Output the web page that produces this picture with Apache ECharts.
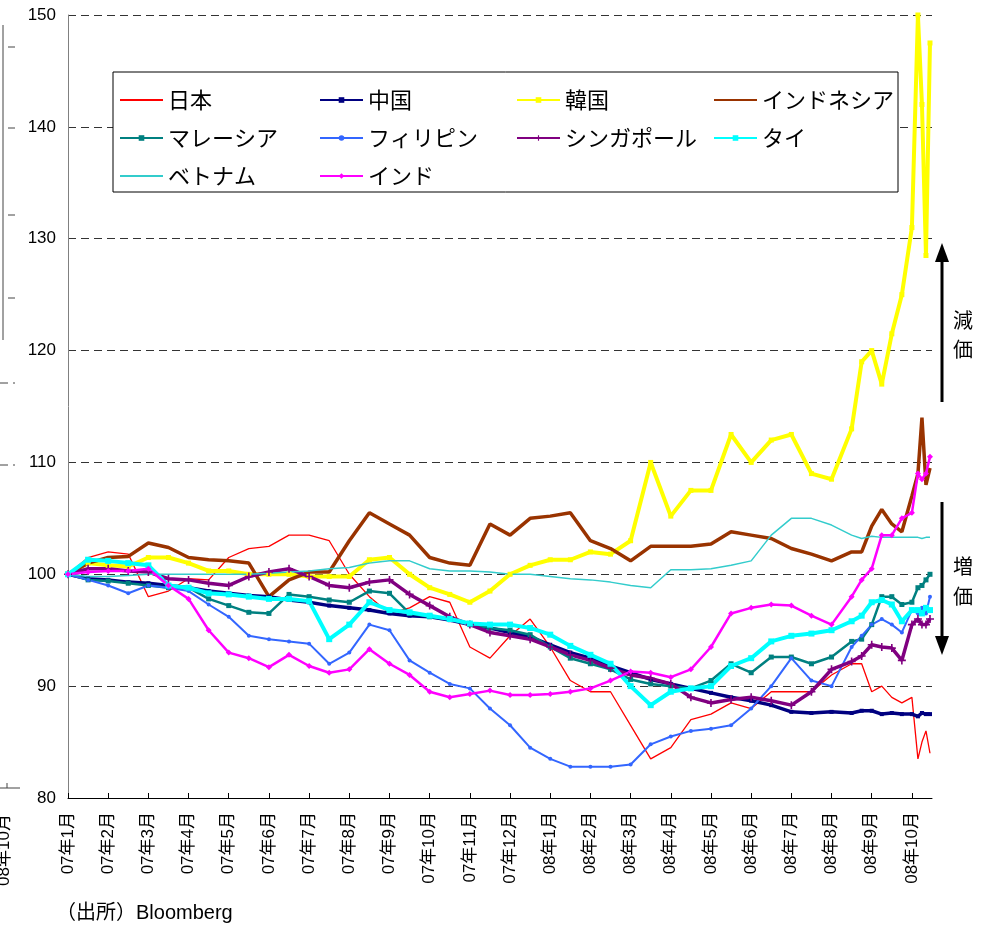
<!DOCTYPE html>
<html>
<head>
<meta charset="utf-8">
<title>アジア通貨の対ドルレート</title>
<script src="https://cdn.jsdelivr.net/npm/echarts@6/dist/echarts.min.js"></script>
<style>
	html, body { margin: 0; padding: 0; background: #fff; }
	#graph { width: 994px; height: 928px; }
</style>
</head>
<body>
<div id="graph"></div>
<script>
// 月インデックス (0 = 07年1月初)
var months = [0, 0.5, 1, 1.5, 2, 2.5, 3, 3.5, 4, 4.5, 5, 5.5, 6, 6.5, 7, 7.5, 8, 8.5, 9, 9.5,
	10, 10.5, 11, 11.5, 12, 12.5, 13, 13.5, 14, 14.5, 15, 15.5, 16, 16.5, 17, 17.5, 18, 18.5, 19, 19.5,
	19.75, 20, 20.25, 20.5, 20.75, 21, 21.15, 21.25, 21.35, 21.45];

var monthLabels = ['07年1月', '07年2月', '07年3月', '07年4月', '07年5月', '07年6月', '07年7月', '07年8月',
	'07年9月', '07年10月', '07年11月', '07年12月', '08年1月', '08年2月', '08年3月', '08年4月',
	'08年5月', '08年6月', '08年7月', '08年8月', '08年9月', '08年10月'];

var yTicks = [80, 90, 100, 110, 120, 130, 140, 150];

var japan = [100, 101.5, 102, 101.8, 98, 98.5, 99.6, 99.5, 101.5, 102.3, 102.5, 103.5, 103.5, 103, 100, 98, 96.5, 97, 98, 97.5,
	93.5, 92.5, 94.5, 96, 93.5, 90.5, 89.5, 89.5, 86.5, 83.5, 84.5, 87, 87.5, 88.5, 88, 89.5, 89.5, 89.5, 91, 92,
	92, 89.5, 90, 89, 88.5, 89, 83.5, 85, 86, 84];
var china = [100, 99.6, 99.5, 99.3, 99.2, 99.0, 98.8, 98.5, 98.3, 98.1, 98.0, 97.7, 97.5, 97.2, 97.0, 96.8, 96.5, 96.3, 96.2, 95.9,
	95.5, 95.2, 94.8, 94.4, 93.7, 93.0, 92.5, 91.8, 91.2, 90.6, 90.2, 89.8, 89.4, 89.0, 88.7, 88.3, 87.7, 87.6, 87.7, 87.6,
	87.8, 87.8, 87.5, 87.6, 87.5, 87.5, 87.3, 87.6, 87.5, 87.5];
var korea = [100, 101, 100.8, 100.7, 101.5, 101.5, 101, 100.3, 100.3, 100, 100, 100, 99.8, 99.8, 99.8, 101.3, 101.5, 100, 98.8, 98.2,
	97.5, 98.5, 100, 100.8, 101.3, 101.3, 102, 101.8, 103, 110, 105.2, 107.5, 107.5, 112.5, 110, 112, 112.5, 109, 108.5, 113,
	119, 120, 117, 121.5, 125, 131, 150, 142, 128.5, 147.5];
var indonesia = [100, 101, 101.5, 101.6, 102.8, 102.4, 101.5, 101.3, 101.2, 101, 98, 99.5, 100.2, 100.2, 103, 105.5, 104.5, 103.5, 101.5, 101,
	100.8, 104.5, 103.5, 105, 105.2, 105.5, 103, 102.3, 101.2, 102.5, 102.5, 102.5, 102.7, 103.8, 103.5, 103.2, 102.3, 101.8, 101.2, 102,
	102, 104.3, 105.8, 104.5, 103.8, 107, 109, 114, 108, 109.5];
var malaysia = [100, 99.5, 99.4, 99.2, 99, 98.8, 98.8, 97.8, 97.2, 96.6, 96.5, 98.2, 98, 97.7, 97.5, 98.5, 98.3, 96.5, 96.2, 96,
	95.5, 95.2, 95, 94.6, 93.5, 92.5, 92, 91.5, 90.6, 90.2, 90, 89.8, 90.5, 92, 91.2, 92.6, 92.6, 92, 92.6, 94,
	94.2, 95.5, 98, 98, 97.3, 97.5, 98.8, 99, 99.5, 100];
var philippines = [100, 99.5, 99, 98.3, 99, 98.8, 98.5, 97.3, 96.2, 94.5, 94.2, 94, 93.8, 92, 93, 95.5, 95, 92.3, 91.2, 90.2,
	89.8, 88, 86.5, 84.5, 83.5, 82.8, 82.8, 82.8, 83, 84.8, 85.5, 86, 86.2, 86.5, 88, 90, 92.5, 90.5, 90, 93.5,
	94.5, 95.5, 96, 95.5, 94.8, 96.8, 96.5, 97, 96.5, 98];
var singapore = [100, 100.5, 100.5, 100.3, 100.2, 99.6, 99.5, 99.2, 99, 99.8, 100.2, 100.5, 99.8, 99, 98.8, 99.3, 99.5, 98.2, 97.2, 96.2,
	95.5, 94.8, 94.5, 94.2, 93.5, 92.8, 92.3, 91.6, 91, 90.7, 90.2, 89, 88.5, 88.8, 89, 88.7, 88.3, 89.5, 91.5, 92.2,
	92.7, 93.7, 93.5, 93.4, 92.3, 95.5, 96, 95.5, 95.5, 96];
var thailand = [100, 101.3, 101.2, 101, 100.8, 99, 98.8, 98.3, 98.2, 98, 97.8, 97.8, 97.6, 94.2, 95.5, 97.5, 96.8, 96.6, 96.3, 96,
	95.6, 95.5, 95.5, 95.2, 94.6, 93.6, 92.8, 92, 90, 88.3, 89.5, 89.8, 90, 91.8, 92.5, 94, 94.5, 94.7, 95, 95.8,
	96.3, 97.5, 97.7, 97.3, 95.8, 96.8, 96.8, 96.5, 97, 96.8];
var vietnam = [100, 99.8, 99.8, 99.9, 100, 100, 100, 100, 100, 100, 100.1, 100.2, 100.3, 100.5, 100.6, 101, 101.2, 101.2, 100.5, 100.3,
	100.3, 100.2, 100, 100, 99.8, 99.6, 99.5, 99.3, 99, 98.8, 100.4, 100.4, 100.5, 100.8, 101.2, 103.5, 105, 105, 104.4, 103.5,
	103.2, 103.4, 103.3, 103.3, 103.3, 103.3, 103.3, 103.2, 103.3, 103.3];
var india = [100, 100.2, 100.3, 100.3, 100.5, 99, 97.8, 95, 93, 92.5, 91.7, 92.8, 91.8, 91.2, 91.5, 93.3, 92, 91, 89.5, 89,
	89.3, 89.6, 89.2, 89.2, 89.3, 89.5, 89.8, 90.5, 91.3, 91.2, 90.8, 91.5, 93.5, 96.5, 97, 97.3, 97.2, 96.3, 95.5, 98,
	99.5, 100.5, 103.5, 103.5, 105, 105.5, 109, 108.5, 109, 110.5];

function graphRender() {
	var myChart = echarts.init(document.getElementById('graph'));
	var font = '"Liberation Sans", "Noto Sans CJK JP", sans-serif';
	var jpFont = '"Noto Sans CJK JP", sans-serif';

	function pairs(values) {
		var out = [];
		for (var i = 0; i < months.length; i++) {
			out.push([months[i], values[i]]);
		}
		return out;
	}

	function line(name, values, color, width, symbol, symbolSize, showSymbol) {
		return {
			name: name,
			type: 'line',
			data: pairs(values),
			symbol: symbol,
			symbolSize: symbolSize,
			showSymbol: showSymbol,
			lineStyle: { color: color, width: width },
			itemStyle: { color: color, borderWidth: 0 },
			emphasis: { disabled: true }
		};
	}

	var plus = 'path://M4,0H6V4H10V6H6V10H4V6H0V4H4Z';
	// 凡例でマーカーを描かない系列
	var noMark = { '日本': true, 'インドネシア': true, 'ベトナム': true };

	var tickValues = [];
	for (var t = 0; t < monthLabels.length; t++) tickValues.push(t);

	function legendCol(left, names) {
		var items = [];
		for (var i = 0; i < names.length; i++) {
			if (noMark[names[i]]) {
				items.push({ name: names[i], itemStyle: { opacity: 0 } });
			} else {
				items.push({ name: names[i] });
			}
		}
		return {
			orient: 'vertical',
			left: left,
			top: 84,
			itemWidth: 43,
			itemHeight: 7,
			itemGap: 16,
			selectedMode: false,
			data: items,
			textStyle: { fontSize: 22, lineHeight: 22, color: '#000', fontFamily: jpFont }
		};
	}

	var fragLine = { stroke: '#444', lineWidth: 1 };

	var option = {
		animation: false,
		backgroundColor: '#fff',
		grid: { left: 68, right: 62, top: 15, bottom: 130 },
		legend: [
			legendCol(114, ['日本', 'マレーシア', 'ベトナム']),
			legendCol(314, ['中国', 'フィリピン', 'インド']),
			legendCol(511, ['韓国', 'シンガポール']),
			legendCol(708, ['インドネシア', 'タイ'])
		],
		xAxis: {
			type: 'value',
			min: 0,
			max: 21.5,
			interval: 1,
			axisLine: { lineStyle: { color: '#000', width: 1 } },
			axisTick: { inside: true, length: 5, customValues: tickValues, lineStyle: { color: '#000' } },
			splitLine: { show: false },
			axisLabel: {
				customValues: tickValues,
				rotate: 90,
				margin: 14,
				fontSize: 17,
				color: '#000',
				fontFamily: font,
				formatter: function (v) { return monthLabels[Math.round(v)] || ''; }
			}
		},
		yAxis: {
			type: 'value',
			min: yTicks[0],
			max: yTicks[yTicks.length - 1],
			interval: 10,
			axisLine: { show: true, lineStyle: { color: '#808080' } },
			axisTick: { show: false },
			splitLine: { lineStyle: { color: '#333', type: [8, 5], width: 1 } },
			axisLabel: { fontSize: 17, color: '#000', margin: 12, fontFamily: font }
		},
		series: [
			line('日本', japan, '#FF0000', 1.3, 'none', 0, false),
			line('中国', china, '#000080', 3.5, 'rect', 4, true),
			line('韓国', korea, '#FFFF00', 4, 'rect', 5, true),
			line('インドネシア', indonesia, '#993300', 3.5, 'none', 0, false),
			line('マレーシア', malaysia, '#008080', 2.5, 'rect', 5, true),
			line('フィリピン', philippines, '#3366FF', 2, 'circle', 4, true),
			line('シンガポール', singapore, '#800080', 3.5, plus, 8, true),
			line('タイ', thailand, '#00FFFF', 4, 'rect', 6, true),
			line('ベトナム', vietnam, '#33CCCC', 1.5, 'none', 0, false),
			line('インド', india, '#FF00FF', 2.5, 'diamond', 6, true)
		],
		graphic: [
			{
				type: 'rect', z: 3,
				shape: { x: 113, y: 72, width: 785, height: 120 },
				style: { fill: '#fff', stroke: '#000', lineWidth: 1 }
			},
			// 減価 (上向き矢印)
			{ type: 'line', z: 5, shape: { x1: 942, y1: 402, x2: 942, y2: 258 }, style: { stroke: '#000', lineWidth: 3 } },
			{ type: 'polygon', z: 5, shape: { points: [[942, 243], [935, 262], [949, 262]] }, style: { fill: '#000' } },
			{ type: 'text', z: 5, x: 963, y: 320, style: { text: '減', fontSize: 20, fontFamily: jpFont, fill: '#000', align: 'center', verticalAlign: 'middle' } },
			{ type: 'text', z: 5, x: 963, y: 349, style: { text: '価', fontSize: 20, fontFamily: jpFont, fill: '#000', align: 'center', verticalAlign: 'middle' } },
			// 増価 (下向き矢印)
			{ type: 'line', z: 5, shape: { x1: 942, y1: 502, x2: 942, y2: 640 }, style: { stroke: '#000', lineWidth: 3 } },
			{ type: 'polygon', z: 5, shape: { points: [[942, 655], [935, 636], [949, 636]] }, style: { fill: '#000' } },
			{ type: 'text', z: 5, x: 963, y: 566, style: { text: '増', fontSize: 20, fontFamily: jpFont, fill: '#000', align: 'center', verticalAlign: 'middle' } },
			{ type: 'text', z: 5, x: 963, y: 596, style: { text: '価', fontSize: 20, fontFamily: jpFont, fill: '#000', align: 'center', verticalAlign: 'middle' } },
			// 出所
			{ type: 'text', z: 5, x: 56, y: 913, style: { text: '（出所）Bloomberg', fontSize: 20, fontFamily: font, fill: '#000', verticalAlign: 'middle' } },
			// 左端に見切れている隣の図の枠
			{ type: 'line', z: 5, shape: { x1: 3, y1: 25, x2: 3, y2: 340 }, style: fragLine },
			{ type: 'line', z: 5, shape: { x1: 8, y1: 47, x2: 15, y2: 47 }, style: fragLine },
			{ type: 'line', z: 5, shape: { x1: 8, y1: 128, x2: 15, y2: 128 }, style: fragLine },
			{ type: 'line', z: 5, shape: { x1: 8, y1: 215, x2: 15, y2: 215 }, style: fragLine },
			{ type: 'line', z: 5, shape: { x1: 8, y1: 298, x2: 15, y2: 298 }, style: fragLine },
			{ type: 'line', z: 5, shape: { x1: 0, y1: 383, x2: 15, y2: 383 }, style: { stroke: '#444', lineWidth: 1, lineDash: [8, 5] } },
			{ type: 'line', z: 5, shape: { x1: 0, y1: 465, x2: 15, y2: 465 }, style: { stroke: '#444', lineWidth: 1, lineDash: [8, 5] } },
			{ type: 'line', z: 5, shape: { x1: 0, y1: 788, x2: 20, y2: 788 }, style: fragLine },
			{ type: 'line', z: 5, shape: { x1: 7, y1: 788, x2: 7, y2: 783 }, style: fragLine },
			{ type: 'text', z: 5, x: 4, y: 850, rotation: Math.PI / 2, style: { text: '08年10月', fontSize: 17, fontFamily: font, fill: '#000', align: 'center', verticalAlign: 'middle' } }
		]
	};

	myChart.setOption(option);
}
graphRender();
</script>
</body>
</html>
